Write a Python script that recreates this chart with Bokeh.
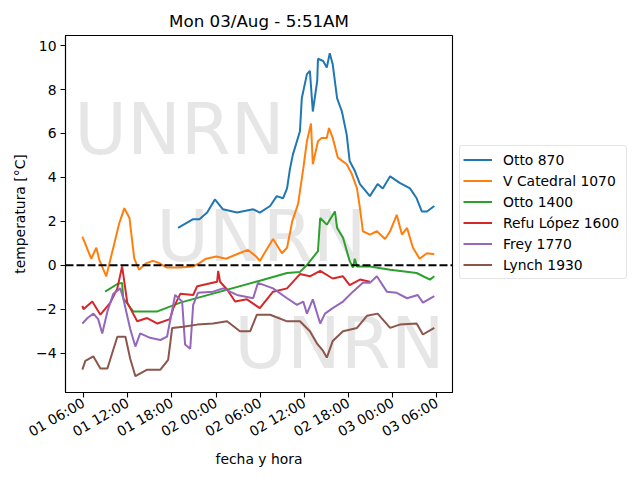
import math
import pandas as pd
from bokeh.plotting import figure
from bokeh.models import Range1d, FixedTicker, DatetimeTickFormatter, Span, Legend, LegendItem
from bokeh.embed import file_html
from bokeh.resources import INLINE
from bokeh.core.properties import value

# ---------------- data (hours after 2020-08-01 05:51) ----------------
start = pd.Timestamp("2020-08-01 05:51")

otto870_h = [13.0, 15.05, 15.9, 16.95, 18.0, 19.1, 21.0, 23.2, 24.1, 25.5, 26.4, 27.25, 27.8, 28.2,
             28.6, 29.55, 29.8, 30.5, 30.9, 31.3, 31.9, 32.0, 32.7, 33.2, 33.6, 34.0, 34.6, 35.25,
             35.9, 36.3, 37.0, 37.7, 39.05, 40.1, 40.8, 41.8, 43.1, 44.5, 45.4, 46.1, 46.8, 47.8]
otto870_t = [1.7, 2.1, 2.1, 2.4, 3.0, 2.55, 2.4, 2.55, 2.4, 2.7, 3.15, 3.05, 3.5, 4.4,
             5.05, 6.1, 7.6, 8.7, 8.85, 7.0, 8.4, 9.4, 9.3, 9.0, 9.65, 9.15, 7.6, 7.0,
             5.95, 4.75, 4.3, 3.7, 3.15, 3.7, 3.5, 4.05, 3.75, 3.5, 3.05, 2.45, 2.45, 2.7]

catedral1070_h = [0.0, 0.55, 1.2, 1.9, 2.3, 3.25, 4.2, 5.0, 5.7, 6.4, 7.05, 7.7, 8.7, 9.6, 10.45,
                  11.4, 13.15, 15.05, 15.9, 16.8, 18.2, 19.5, 21.3, 22.5, 23.6, 24.1, 25.9, 27.1,
                  27.8, 28.5, 29.3, 30.0, 30.5, 31.05, 31.3, 32.0, 32.5, 33.2, 33.5, 34.0, 34.7,
                  35.9, 36.6, 37.3, 37.7, 38.1, 39.05, 40.0, 41.1, 41.8, 42.7, 43.4, 44.1, 44.9,
                  45.8, 46.8, 47.8]
catedral1070_t = [1.3, 0.85, 0.3, 0.8, 0.25, -0.5, 0.8, 1.9, 2.6, 2.15, 0.3, -0.2, 0.1, 0.2, 0.1,
                  -0.1, -0.1, -0.05, 0.1, 0.3, 0.4, 0.3, 0.55, 0.7, 0.4, 0.2, 1.2, 0.55,
                  0.8, 2.0, 2.8, 4.4, 5.65, 6.45, 4.6, 5.65, 5.8, 5.8, 6.25, 5.8, 4.9,
                  4.6, 4.15, 3.5, 2.6, 1.55, 1.4, 1.55, 1.2, 1.55, 2.3, 1.4, 1.7, 0.8,
                  0.3, 0.55, 0.5]

otto1400_h = [3.1, 4.75, 5.4, 5.55, 6.9, 10.2, 13.3, 24.1, 27.8, 29.55, 30.6, 32.0, 32.3, 33.2,
              34.3, 34.6, 35.4, 36.3, 36.75, 37.0, 37.3, 39.05, 41.8, 45.4, 47.2, 47.8]
otto1400_t = [-1.2, -0.85, -0.8, -1.5, -2.1, -2.1, -1.7, -0.7, -0.35, -0.3, 0.05, 0.65, 2.15, 1.85,
              2.45, 1.7, 1.25, 0.2, -0.1, 0.3, -0.05, -0.05, -0.2, -0.35, -0.65, -0.5]

lopez1600_h = [0.0, 0.15, 1.35, 2.45, 3.8, 4.75, 5.4, 6.1, 7.45, 8.8, 10.2, 11.9, 12.35, 13.3,
               15.05, 15.6, 18.3, 18.45, 18.7, 19.65, 20.75, 22.35, 24.1, 25.9, 27.8, 29.55,
               30.9, 32.3, 34.0, 35.4, 36.3, 37.7, 39.05]
lopez1600_t = [-1.85, -2.0, -1.65, -2.25, -1.7, -1.05, -0.05, -1.7, -2.55, -2.4, -2.65, -2.45, -1.95, -1.3,
               -1.35, -0.95, -0.75, -0.25, -0.75, -1.1, -1.65, -1.55, -1.95, -1.2, -1.05, -0.4,
               -0.5, -0.25, -0.6, -0.5, -0.9, -0.65, -0.75]

frey1770_h = [0.0, 0.7, 1.5, 2.15, 2.7, 3.4, 4.2, 5.15, 5.55, 6.5, 7.2, 7.85, 9.2, 10.6, 11.5,
              12.6, 13.55, 13.95, 14.65, 15.05, 15.7, 17.75, 19.1, 21.0, 23.2, 23.85, 25.9,
              27.8, 29.15, 30.0, 30.5, 31.3, 32.3, 32.95, 34.0, 35.4, 36.75, 38.1, 39.05,
              40.0, 41.35, 42.7, 44.1, 45.55, 46.25, 47.8]
frey1770_t = [-2.65, -2.4, -2.2, -2.45, -3.1, -2.1, -1.3, -1.05, -1.5, -2.9, -3.7, -3.1, -3.3, -3.4, -3.25,
              -1.35, -1.65, -3.6, -3.8, -1.8, -1.25, -1.2, -1.05, -1.35, -1.5, -0.8, -1.05,
              -1.5, -1.8, -1.65, -2.2, -1.55, -2.65, -2.2, -1.95, -1.65, -1.2, -0.8, -0.8,
              -0.5, -1.2, -1.25, -1.5, -1.35, -1.7, -1.4]

lynch1930_h = [0.0, 0.4, 1.5, 2.45, 3.4, 4.75, 5.85, 6.5, 7.2, 8.8, 10.6, 11.65, 12.2, 13.7,
               15.6, 17.75, 19.65, 21.4, 22.8, 23.7, 25.5, 27.8, 29.55, 30.9, 31.85, 32.7,
               33.2, 34.0, 35.4, 37.3, 38.65, 40.1, 41.8, 43.1, 45.4, 46.25, 47.8]
lynch1930_t = [-4.75, -4.35, -4.15, -4.7, -4.7, -3.25, -3.25, -4.25, -5.05, -4.75, -4.75, -4.3, -2.85, -2.8,
               -2.7, -2.65, -2.55, -3.0, -3.0, -2.25, -2.25, -2.55, -2.55, -3.0, -3.55, -3.9,
               -4.2, -3.45, -3.0, -2.85, -2.3, -2.2, -2.85, -2.7, -2.65, -3.15, -2.85]

series_names = ["Otto 870", "V Catedral 1070", "Otto 1400", "Refu López 1600", "Frey 1770", "Lynch 1930"]
series_colors = ["#1f77b4", "#ff7f0e", "#2ca02c", "#d62728", "#9467bd", "#8c564b"]
series_data = [(otto870_h, otto870_t), (catedral1070_h, catedral1070_t), (otto1400_h, otto1400_t),
               (lopez1600_h, lopez1600_t), (frey1770_h, frey1770_t), (lynch1930_h, lynch1930_t)]

x_tick_times = ["2020-08-01 06:00", "2020-08-01 12:00", "2020-08-01 18:00", "2020-08-02 00:00",
                "2020-08-02 06:00", "2020-08-02 12:00", "2020-08-02 18:00", "2020-08-03 00:00",
                "2020-08-03 06:00"]
y_ticks = [-4, -2, 0, 2, 4, 6, 8, 10]

title_text = "Mon 03/Aug - 5:51AM"
watermark = "UNRN"


def ms(ts):
    return pd.Timestamp(ts).value / 1e6


def to_times(hours):
    return [start + pd.Timedelta(hours=h) for h in hours]


first_tick = pd.Timestamp(x_tick_times[0])
x_start = first_tick - pd.Timedelta(hours=2.44)
x_end = first_tick + pd.Timedelta(hours=50.12)

FONT = "DejaVu Sans"

p = figure(x_axis_type="datetime", output_backend="svg", toolbar_location=None,
           frame_width=387, frame_height=357,
           min_border_left=65, min_border_right=180, min_border_top=35, min_border_bottom=80,
           x_range=Range1d(ms(x_start), ms(x_end)), y_range=Range1d(-5.79, 10.46),
           title=title_text)

p.title.text_font = FONT
p.title.text_font_size = "16.7px"
p.title.text_font_style = "normal"
p.title.align = "center"
p.title.text_color = "black"

p.background_fill_color = "white"
p.border_fill_color = "white"
p.outline_line_color = "black"
p.outline_line_width = 1.1
p.xgrid.visible = False
p.ygrid.visible = False

# watermark texts (behind lines)
p.text(x=[first_tick - pd.Timedelta(hours=1.26), first_tick + pd.Timedelta(hours=9.87),
          first_tick + pd.Timedelta(hours=20.47)],
       y=[6.22, 1.34, -3.53], text=[watermark] * 3,
       text_font=value(FONT), text_font_size="72px", text_color="gray", text_alpha=0.2,
       text_align="left", text_baseline="alphabetic")

items = []
for name, color, (hrs, temps) in zip(series_names, series_colors, series_data):
    r = p.line(to_times(hrs), temps, line_color=color, line_width=2)
    items.append(LegendItem(label=name, renderers=[r]))

p.add_layout(Span(location=0, dimension="width", line_color="black", line_width=2, line_dash="8 3"))

# axes
p.xaxis.ticker = FixedTicker(ticks=[ms(t) for t in x_tick_times])
fmt = "%d %H:%M"
p.xaxis.formatter = DatetimeTickFormatter(hours=fmt, hourmin=fmt, days=fmt, minutes=fmt, minsec=fmt)
p.xaxis.major_label_orientation = math.pi / 6
p.yaxis.ticker = FixedTicker(ticks=y_ticks)
p.yaxis.major_label_overrides = {t: str(t).replace("-", "\u2212") for t in y_ticks}

for ax in (p.xaxis[0], p.yaxis[0]):
    ax.axis_line_color = "black"
    ax.axis_line_width = 1.1
    ax.major_tick_out = 5
    ax.major_tick_in = 0
    ax.minor_tick_out = 0
    ax.minor_tick_in = 0
    ax.major_tick_line_color = "black"
    ax.major_tick_line_width = 1.1
    ax.major_label_text_font = FONT
    ax.major_label_text_font_size = "13.9px"
    ax.major_label_text_color = "black"
    ax.axis_label_text_font = FONT
    ax.axis_label_text_font_size = "13.9px"
    ax.axis_label_text_font_style = "normal"
    ax.axis_label_text_color = "black"
    ax.major_label_standoff = 4

p.xaxis.axis_label_standoff = 2
p.xaxis.axis_label = "fecha y hora"
p.yaxis.axis_label = "temperatura [°C]"

legend = Legend(items=items, location=(7, 113), orientation="vertical")
legend.label_text_font = FONT
legend.label_text_font_size = "13.9px"
legend.label_text_color = "black"
legend.glyph_width = 29
legend.glyph_height = 21
legend.label_height = 21
legend.label_width = 120
legend.label_standoff = 11
legend.spacing = 0
legend.padding = 3
legend.margin = 0
legend.border_line_color = "#cccccc"
legend.border_line_width = 1
legend.border_radius = 3
legend.background_fill_color = "white"
legend.background_fill_alpha = 0.8
p.add_layout(legend, "right")

open("out.html", "w").write(file_html(p, INLINE))
